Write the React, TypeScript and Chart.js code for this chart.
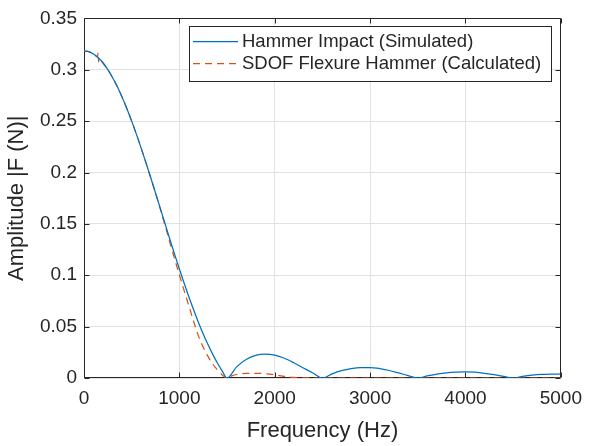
import React, { useEffect, useRef } from 'react';
import { Chart, registerables } from 'chart.js';

Chart.register(...registerables);

const FONT = '"Liberation Sans", Arial, Helvetica, sans-serif';
const INK = '#262626';
const BLUE = '#0072BD';
const RED = '#D95319';

const seriesLabels = ['Hammer Impact (Simulated)', 'SDOF Flexure Hammer (Calculated)'];
const xTitle = 'Frequency (Hz)';
const yTitle = 'Amplitude |F (N)|';
const xTickLabels = ['0', '1000', '2000', '3000', '4000', '5000'];
const yTickLabels = ['0', '0.05', '0.1', '0.15', '0.2', '0.25', '0.3', '0.35'];

const blueFreq = [
  0, 50, 100, 150, 200, 250, 300, 350, 400, 450, 500, 550, 600, 650, 700, 750,
  800, 850, 900, 950, 1000, 1050, 1100, 1150, 1200, 1250, 1300, 1350, 1400, 1450, 1500,
  1600, 1700, 1800, 1900, 2000, 2100, 2200, 2300, 2400, 2500,
  2600, 2700, 2800, 2900, 3000, 3100, 3200, 3300, 3400, 3500,
  3600, 3700, 3800, 3900, 4000, 4100, 4200, 4300, 4400, 4500,
  4600, 4700, 4800, 4900, 5000,
];
const blueAmp = [
  0.3183, 0.3176, 0.3153, 0.3117, 0.3066, 0.3001, 0.2923, 0.2834, 0.2732, 0.2621, 0.25, 0.2371, 0.2235, 0.2094, 0.1949, 0.1801,
  0.1651, 0.1501, 0.1351, 0.1205, 0.1061, 0.0922, 0.0788, 0.0661, 0.0541, 0.0429, 0.0325, 0.023, 0.0144, 0.0067, 0,
  0.0108, 0.018, 0.022, 0.0232, 0.0222, 0.0192, 0.0148, 0.0098, 0.0048, 0,
  0.004, 0.0072, 0.0092, 0.0102, 0.0102, 0.0092, 0.0073, 0.0049, 0.0024, 0,
  0.002, 0.0038, 0.0051, 0.0058, 0.006, 0.0056, 0.0046, 0.0032, 0.0016, 0,
  0.0016, 0.0028, 0.0035, 0.0038, 0.0039,
];

const redFreq = [
  0, 50, 100, 140, 148, 153, 158, 200, 250, 300, 350, 400, 450, 500, 550, 600, 650, 700, 750,
  800, 850, 900, 950, 1000, 1050, 1100, 1150, 1200, 1250, 1300, 1350, 1400, 1450, 1500,
  1550, 1600, 1700, 1800, 1900, 2000, 2100, 2200, 2300, 2400, 3000, 4000, 5000,
];
const redAmp = [
  0.3183, 0.3176, 0.3153, 0.3125, 0.3168, 0.3078, 0.311, 0.3066, 0.3001, 0.2923, 0.2834, 0.2732, 0.2621, 0.25, 0.2371, 0.2235, 0.2094, 0.1949, 0.18,
  0.1645, 0.1485, 0.132, 0.116, 0.1005, 0.085, 0.07, 0.055, 0.041, 0.03, 0.021, 0.0135, 0.0078, 0.003, 0,
  0.002, 0.0034, 0.0045, 0.0046, 0.0041, 0.0031, 0.0016, 0.0006, 0.0001, 0, 0, 0, 0,
];

const framePlugin = {
  id: 'matlabFrame',
  beforeDatasetsDraw(chart: any) {
    const { ctx, chartArea: a, scales } = chart;
    const xs = scales.x;
    const ys = scales.y;
    const L = Math.round(a.left) + 0.5;
    const R = Math.round(a.right) - 0.5;
    const T = Math.round(a.top) + 0.5;
    const B = Math.round(a.bottom) - 0.5;
    const tl = 5;
    ctx.save();
    ctx.strokeStyle = INK;
    ctx.lineWidth = 1;
    ctx.beginPath();
    ctx.rect(L, T, R - L, B - T);
    xs.ticks.forEach((t: any) => {
      const px = Math.round(xs.getPixelForValue(t.value)) + 0.5;
      ctx.moveTo(px, B);
      ctx.lineTo(px, B - tl);
      ctx.moveTo(px, T);
      ctx.lineTo(px, T + tl);
    });
    ys.ticks.forEach((t: any) => {
      const py = Math.round(ys.getPixelForValue(t.value)) + 0.5;
      ctx.moveTo(L, py);
      ctx.lineTo(L + tl, py);
      ctx.moveTo(R, py);
      ctx.lineTo(R - tl, py);
    });
    ctx.stroke();
    ctx.restore();
  },
};

const legendPlugin = {
  id: 'matlabLegend',
  afterDatasetsDraw(chart: any) {
    const { ctx } = chart;
    const boxL = 189.5;
    const boxT = 26.5;
    const boxW = 362;
    const boxH = 55;
    ctx.save();
    ctx.fillStyle = '#ffffff';
    ctx.fillRect(boxL, boxT, boxW, boxH);
    ctx.strokeStyle = INK;
    ctx.lineWidth = 1;
    ctx.strokeRect(boxL, boxT, boxW, boxH);
    ctx.font = `18.5px ${FONT}`;
    ctx.textBaseline = 'middle';
    ctx.textAlign = 'left';
    chart.data.datasets.forEach((ds: any, i: number) => {
      const yy = 41 + i * 22.3;
      ctx.save();
      ctx.strokeStyle = ds.borderColor;
      ctx.lineWidth = 1.25;
      ctx.setLineDash(ds.borderDash || []);
      ctx.beginPath();
      ctx.moveTo(193, Math.round(yy) + 0.5);
      ctx.lineTo(238, Math.round(yy) + 0.5);
      ctx.stroke();
      ctx.restore();
      ctx.fillStyle = INK;
      ctx.fillText(ds.label, 242, yy + 1);
    });
    ctx.restore();
  },
};

export default function App() {
  const ref = useRef<HTMLCanvasElement | null>(null);

  useEffect(() => {
    document.body.style.margin = '0';
    const canvas = ref.current;
    if (!canvas) return;
    const chart = new Chart(canvas, {
      type: 'line',
      data: {
        datasets: [
          {
            label: seriesLabels[0],
            data: blueFreq.map((f, i) => ({ x: f, y: blueAmp[i] })),
            borderColor: BLUE,
            borderWidth: 1.25,
            pointRadius: 0,
            fill: false,
            cubicInterpolationMode: 'monotone',
          },
          {
            label: seriesLabels[1],
            data: redFreq.map((f, i) => ({ x: f, y: redAmp[i] })),
            borderColor: RED,
            borderWidth: 1.25,
            borderDash: [7, 5],
            pointRadius: 0,
            fill: false,
            cubicInterpolationMode: 'monotone',
          },
        ],
      },
      options: {
        responsive: false,
        animation: false,
        devicePixelRatio: 1,
        layout: { padding: { top: 13, right: 25, left: 0, bottom: 0 } },
        plugins: {
          legend: { display: false },
          tooltip: { enabled: false },
        },
        scales: {
          x: {
            type: 'linear',
            min: 0,
            max: 5000,
            ticks: {
              stepSize: 1000,
              color: INK,
              font: { family: FONT, size: 19 },
              padding: 9,
              maxRotation: 0,
              callback: (_v: any, i: number) => xTickLabels[i],
            },
            grid: { color: '#e2e2e2', lineWidth: 1, drawTicks: false },
            border: { display: false },
            title: {
              display: true,
              text: xTitle,
              color: INK,
              font: { family: FONT, size: 22 },
              padding: { top: 2, bottom: 2 },
            },
            afterFit: (s: any) => {
              s.height = 68;
            },
          },
          y: {
            type: 'linear',
            min: 0,
            max: 0.35,
            ticks: {
              stepSize: 0.05,
              color: INK,
              font: { family: FONT, size: 19 },
              padding: 7,
              callback: (_v: any, i: number) => yTickLabels[i],
            },
            grid: { color: '#e2e2e2', lineWidth: 1, drawTicks: false },
            border: { display: false },
            title: {
              display: true,
              text: yTitle,
              color: INK,
              font: { family: FONT, size: 22 },
              padding: { top: 4, bottom: 4 },
            },
            afterFit: (s: any) => {
              s.width = 84;
            },
          },
        },
      },
      plugins: [framePlugin, legendPlugin],
    } as any);
    return () => chart.destroy();
  }, []);

  return (
    <div style={{ width: 591, height: 446 }}>
      <canvas ref={ref} width={591} height={446} style={{ display: 'block' }} />
    </div>
  );
}
